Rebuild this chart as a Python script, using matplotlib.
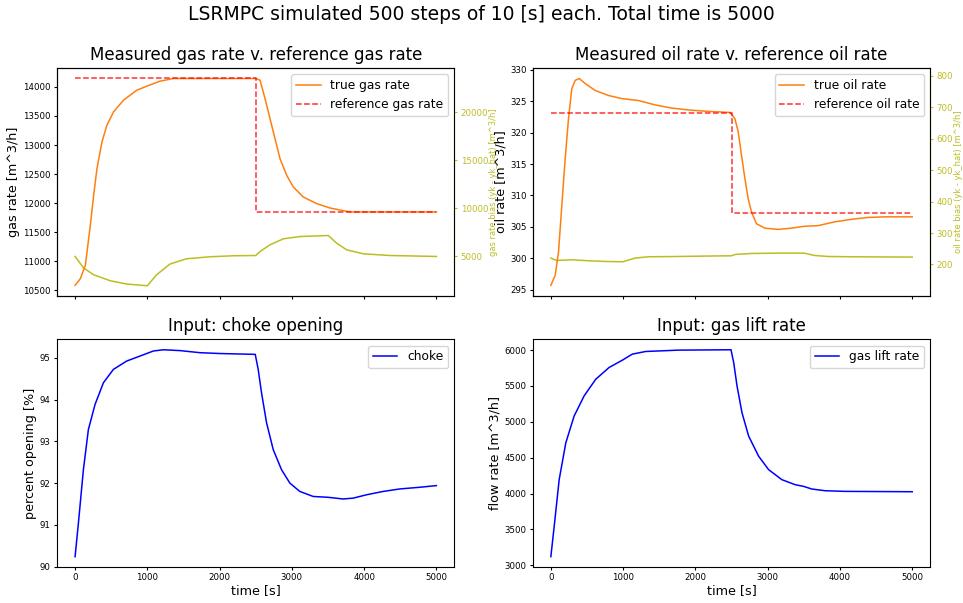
"""LSRMPC simulation plot: gas/oil rates vs references and the two inputs."""

import matplotlib.pyplot as plt

# %% Data
t_end = 5000
t_step = 2500

# gas rate [m^3/h]
gas_t = [0, 73, 142, 211, 257, 303, 372, 440, 532, 670, 853, 1000, 1174, 1357,
         2500, 2560, 2628, 2697, 2766, 2835, 2928, 3020, 3157, 3343, 3527,
         3757, 3850, 5000]
gas_rate = [10587, 10702, 10931, 11620, 12136, 12595, 13054, 13341, 13570,
            13771, 13943, 14017, 14098, 14144, 14145, 14115, 13800, 13456,
            13112, 12768, 12480, 12279, 12107, 11993, 11918, 11861, 11850,
            11850]
gas_ref_hi = 14145
gas_ref_lo = 11850

# gas rate bias (yk - yk_hat)
gas_bias_t = [0, 119, 257, 486, 716, 1000, 1128, 1312, 1541, 1862, 2183, 2500,
              2560, 2697, 2881, 3112, 3503, 3619, 3757, 3986, 4355, 5000]
gas_bias = [5000, 3790, 3096, 2472, 2130, 1950, 3096, 4208, 4758, 4966, 5070,
            5100, 5517, 6212, 6836, 7075, 7179, 6390, 5693, 5278, 5100, 5000]

# oil rate [m^3/h]
oil_t = [0, 60, 106, 152, 198, 244, 290, 337, 392, 475, 613, 797, 981, 1211,
         1442, 1671, 1902, 2133, 2482, 2547, 2593, 2638, 2685, 2730, 2776,
         2845, 2961, 3145, 3329, 3513, 3697, 3928, 4157, 4388, 4618, 5000]
oil_rate = [295.7, 297.3, 301.0, 308.4, 315.8, 322.2, 327.0, 328.3, 328.6,
            327.8, 326.7, 325.9, 325.4, 325.1, 324.4, 323.9, 323.6, 323.4,
            323.2, 322.2, 320.1, 316.4, 312.7, 309.5, 307.4, 305.5, 304.8,
            304.6, 304.8, 305.1, 305.2, 305.8, 306.2, 306.5, 306.6, 306.6]
oil_ref_hi = 323.1
oil_ref_lo = 307.15

# oil rate bias (yk - yk_hat)
oil_bias_t = [0, 83, 290, 521, 751, 994, 1166, 1350, 1671, 2133, 2500, 2547,
              2776, 3145, 3504, 3650, 3834, 4157, 5000]
oil_bias = [220.2, 212.6, 214.8, 211.7, 209.5, 208.5, 220.2, 224.4, 225.0,
            226.6, 227.5, 231.7, 234.9, 236.0, 236.0, 228.5, 225.3, 224.4,
            223.4]

# choke opening [%]
choke_t = [0, 46, 115, 184, 276, 392, 530, 714, 899, 991, 1083, 1221, 1452,
           1728, 2004, 2493, 2534, 2580, 2650, 2742, 2857, 2972, 3110, 3295,
           3502, 3709, 3848, 4032, 4262, 4493, 4769, 5000]
choke = [90.24, 91.04, 92.32, 93.28, 93.88, 94.40, 94.72, 94.92, 95.04, 95.10,
         95.16, 95.19, 95.17, 95.12, 95.10, 95.08, 94.72, 94.16, 93.44, 92.80,
         92.32, 92.00, 91.80, 91.68, 91.66, 91.62, 91.64, 91.72, 91.80, 91.86,
         91.90, 91.94]

# gas lift rate [m^3/h]
gl_t = [0, 46, 115, 207, 322, 460, 621, 805, 998, 1127, 1311, 1771, 2493, 2530,
        2576, 2645, 2737, 2875, 3013, 3197, 3381, 3496, 3611, 3795, 4071, 5000]
gas_lift = [3121, 3541, 4194, 4708, 5081, 5361, 5594, 5757, 5865, 5944, 5981,
            6000, 6005, 5827, 5501, 5127, 4801, 4521, 4334, 4194, 4124, 4101,
            4064, 4040, 4031, 4026]

# %% Plot
bias_color = "tab:olive"
ref_color = "red"
lw = 1.1
tick_kw = dict(labelsize=6.2, length=2.5, pad=2)
label_fs = 9.2
legend_fs = 8.8

fig, axs = plt.subplots(2, 2, sharex=True, figsize=(9.63, 6.03), dpi=100)
fig.subplots_adjust(left=0.0592, right=0.966, bottom=0.0597, top=0.887,
                    wspace=0.197, hspace=0.192)
fig.suptitle("LSRMPC simulated 500 steps of 10 [s] each. Total time is 5000",
             fontsize=13.5, y=0.992)

panels = [
    (axs[0, 0], gas_t, gas_rate, gas_ref_hi, gas_ref_lo, gas_bias_t, gas_bias,
     "gas", (914, 24600)),
    (axs[0, 1], oil_t, oil_rate, oil_ref_hi, oil_ref_lo, oil_bias_t, oil_bias,
     "oil", (100.5, 824.4)),
]
for ax, t, y, ref_hi, ref_lo, bt, b, name, blim in panels:
    ax2 = ax.twinx()
    ax2.plot(bt, b, color=bias_color, lw=lw)
    ax2.set_ylim(*blim)
    ax2.set_ylabel(f"{name} rate bias (yk - yk_hat) [m^3/h]", color=bias_color,
                   fontsize=6.0, labelpad=0.5)
    ax2.tick_params(axis="y", colors=bias_color, **tick_kw)
    ax2.spines["right"].set_color(bias_color)

    ax.plot(t, y, color="tab:orange", lw=lw, label=f"true {name} rate")
    ax.plot([0, t_step, t_step, t_end], [ref_hi, ref_hi, ref_lo, ref_lo],
            "--", color=ref_color, alpha=0.8, lw=lw,
            label=f"reference {name} rate")
    ax.set_zorder(ax2.get_zorder() + 1)
    ax.patch.set_visible(False)
    ax.set_title(f"Measured {name} rate v. reference {name} rate", fontsize=12)
    ax.set_ylabel(f"{name} rate [m^3/h]", fontsize=label_fs, labelpad=2)
    ax.legend(loc="upper right", fontsize=legend_fs)
    ax.tick_params(**tick_kw)

ax = axs[1, 0]
ax.plot(choke_t, choke, color="b", lw=lw, label="choke")
ax.set_title("Input: choke opening", fontsize=12)
ax.set_ylabel("percent opening [%]", fontsize=label_fs, labelpad=2)

ax = axs[1, 1]
ax.plot(gl_t, gas_lift, color="b", lw=lw, label="gas lift rate")
ax.set_title("Input: gas lift rate", fontsize=12)
ax.set_ylabel("flow rate [m^3/h]", fontsize=label_fs, labelpad=2)

for ax in axs[1]:
    ax.set_xlabel("time [s]", fontsize=label_fs, labelpad=1)
    ax.legend(loc="upper right", fontsize=legend_fs)
    ax.tick_params(**tick_kw)

fig.savefig("out.png")
